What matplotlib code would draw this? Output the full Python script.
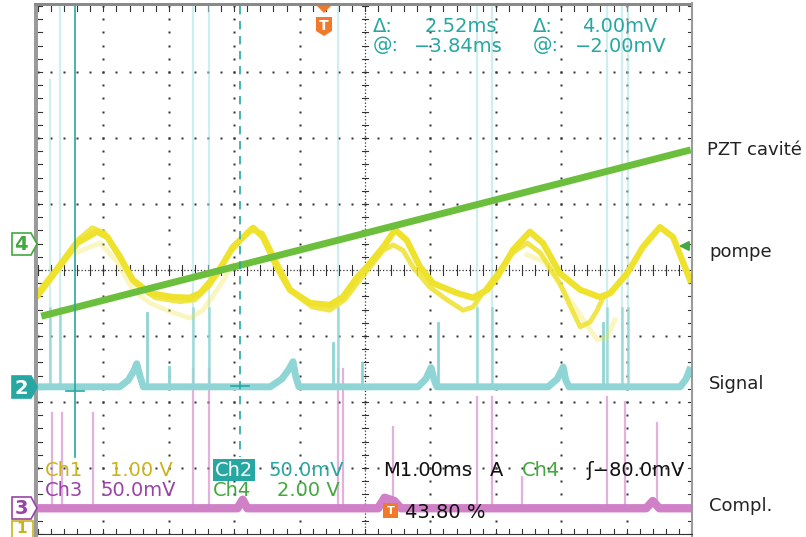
import numpy as np
import matplotlib.pyplot as plt
from matplotlib.patches import Polygon, Rectangle

# Écran de l'oscilloscope : 10 div horizontales (1 ms/div), 8 div verticales
# temps en ms depuis le bord gauche, amplitudes en divisions

# Ch4 : rampe de la cale piézo (PZT cavité)
t_pzt = [0.05, 9.98]
v_pzt = [-0.70, 1.82]

# Ch1 : pompe, trace principale
t_pompe = [0.00, 0.29, 0.60, 0.90, 1.06, 1.25, 1.45, 1.71, 2.06, 2.32, 2.48, 2.74,
           2.98, 3.29, 3.44, 3.65, 3.85, 4.16, 4.46, 4.66, 4.88, 5.03, 5.28, 5.46,
           5.64, 5.84, 6.04, 6.41, 6.65, 6.87, 7.02, 7.26, 7.52, 7.72, 7.98, 8.29,
           8.59, 8.75, 9.01, 9.25, 9.51, 9.71, 9.97]
v_pompe = [-0.38, 0.00, 0.41, 0.58, 0.50, 0.20, -0.15, -0.35, -0.41, -0.42, -0.35, -0.05,
           0.35, 0.64, 0.50, 0.05, -0.30, -0.50, -0.53, -0.41, -0.11, 0.05, 0.35, 0.61,
           0.45, 0.05, -0.20, -0.35, -0.42, -0.30, -0.11, 0.30, 0.58, 0.41, -0.05, -0.30,
           -0.41, -0.35, -0.05, 0.35, 0.65, 0.50, -0.15]

# Ch1 : second passage (persistance)
t_pompe2 = [0.00, 0.29, 0.60, 0.83, 1.02, 1.25, 1.48, 1.79, 2.17, 2.40, 2.63, 2.94,
            3.24, 3.43, 3.65, 3.88, 4.19, 4.46, 4.69, 4.92, 5.28, 5.43, 5.58, 5.73,
            5.99, 6.25, 6.50, 6.65, 6.91, 7.26, 7.48, 7.68, 7.98, 8.13, 8.29, 8.44,
            8.55, 8.64, 8.75]
v_pompe2 = [-0.33, 0.03, 0.45, 0.64, 0.56, 0.23, -0.20, -0.42, -0.48, -0.45, -0.23, 0.27,
            0.61, 0.56, 0.12, -0.33, -0.56, -0.61, -0.45, -0.15, 0.30, 0.38, 0.30, 0.05,
            -0.26, -0.45, -0.61, -0.56, -0.20, 0.26, 0.41, 0.26, -0.20, -0.53, -0.86, -0.79,
            -0.61, -0.42, -0.35]

# Ch1 : traces rémanentes pâles
t_pale1 = [0.60, 0.95, 1.21, 1.45, 1.71, 1.97, 2.32, 2.52, 2.74, 2.98]
v_pale1 = [0.27, 0.41, 0.12, -0.30, -0.50, -0.61, -0.73, -0.61, -0.30, 0.08]
t_pale2 = [7.48, 7.75, 8.03, 8.29, 8.55, 8.70, 8.82]
v_pale2 = [0.23, 0.12, -0.30, -0.68, -1.06, -1.02, -0.76]

# Ch2 : signal
t_sig = [0.00, 1.25, 1.38, 1.47, 1.51, 1.56, 1.61, 3.55, 3.73, 3.84, 3.90, 3.94, 3.99,
         5.81, 5.93, 6.01, 6.06, 6.10, 7.80, 7.94, 8.03, 8.07, 8.12, 9.82, 9.91, 9.98]
v_sig = [-1.77, -1.77, -1.67, -1.52, -1.42, -1.61, -1.77, -1.77, -1.65, -1.50, -1.39, -1.61, -1.77,
         -1.77, -1.65, -1.48, -1.67, -1.77, -1.77, -1.65, -1.47, -1.67, -1.77, -1.77, -1.65, -1.47]
base_sig = -1.77
# pics fins du signal
t_pics_sig = [1.67, 2.00, 4.51, 4.95, 6.12, 8.64]
h_pics_sig = [-0.65, -1.47, -1.11, -1.41, -0.80, -0.80]
# pics saturés (jusqu'en haut de l'écran)
t_sat = [0.18, 0.34, 2.37, 2.61, 4.59, 6.71, 6.94, 8.70, 8.93, 9.02]
h_sat = [2.88, 4.0, 4.0, 4.0, 4.0, 4.0, 4.0, 4.0, 4.0, 4.0]

# Ch3 : complémentaire
t_compl = [0.00, 3.05, 3.13, 3.20, 5.20, 5.30, 5.45, 5.55, 9.30, 9.40, 9.50, 10.0]
v_compl = [-3.61, -3.61, -3.48, -3.61, -3.61, -3.45, -3.50, -3.61, -3.61, -3.50, -3.61, -3.61]
base_compl = -3.61
t_pics_compl = [0.21, 0.37, 0.84, 2.37, 2.61, 4.59, 4.66, 5.43, 6.71, 6.94, 7.40, 8.70, 8.98, 9.46]
h_pics_compl = [-2.17, -2.17, -2.17, -1.50, -1.50, -1.50, -1.50, -2.38, -1.92, -1.92, -3.14, -1.92, -2.00, -2.32]

# curseurs temps (Ch2) et niveaux
t_curs = [0.57, 3.09]
v_curs = [-1.83, -1.76]

jaune = '#eee22c'
vert = '#6cbf3c'
cyan = '#8fd5d5'
magenta = '#cf80c6'
teal = '#27a7a2'
violet = '#9a42a8'
vert_txt = '#43a83e'
jaune_txt = '#c9b41c'
orange = '#f07a2a'

fig = plt.figure(figsize=(8.06, 5.37), dpi=100)
fig.patch.set_facecolor('white')

ax = fig.add_axes([38 / 806, 3 / 537, 654 / 806, 528 / 537])
ax.set_xlim(0, 10)
ax.set_ylim(-4, 4)
ax.axis('off')

# grille pointillée
pas = np.arange(0, 10.001, 0.2)
pas_v = np.arange(-4, 4.001, 0.2)
for i in range(1, 10):
    if i != 5:
        ax.plot([i] * len(pas_v), pas_v, 's', ms=1.5, color='#333333', mec='none', zorder=1)
for j in range(-3, 4):
    if j != 0:
        ax.plot(pas, [j] * len(pas), 's', ms=1.5, color='#333333', mec='none', zorder=1)
# axes centraux gradués
ax.plot([0, 10], [0, 0], ':', color='#333333', lw=0.9, zorder=1)
ax.plot([5, 5], [-4, 4], ':', color='#333333', lw=0.9, zorder=1)
for x in pas:
    ax.plot([x, x], [-0.07, 0.07], color='#333333', lw=0.8, zorder=1)
    ax.plot([x, x], [4, 3.93], color='#333333', lw=0.8, zorder=1)
    ax.plot([x, x], [-4, -3.93], color='#333333', lw=0.8, zorder=1)
for y in pas_v:
    ax.plot([4.95, 5.05], [y, y], color='#333333', lw=0.8, zorder=1)
    ax.plot([0, 0.06], [y, y], color='#333333', lw=0.8, zorder=1)
    ax.plot([10, 9.94], [y, y], color='#333333', lw=0.8, zorder=1)

# Ch3
for t, h in zip(t_pics_compl, h_pics_compl):
    ax.plot([t, t], [base_compl, h], color=magenta, lw=1.6, alpha=0.6, zorder=2)
ax.plot(t_compl, v_compl, color=magenta, lw=6, solid_capstyle='butt', zorder=2)

# Ch2
for t, h in zip(t_sat, h_sat):
    ax.plot([t, t], [base_sig, h], color='#a9e0e0', lw=1.6, alpha=0.55, zorder=2)
    ax.plot([t, t], [base_sig, base_sig + 1.2], color=cyan, lw=1.8, alpha=0.8, zorder=2)
for t, h in zip(t_pics_sig, h_pics_sig):
    ax.plot([t, t], [base_sig, h], color=cyan, lw=2.0, zorder=3)
ax.plot(t_sig, v_sig, color=cyan, lw=5, solid_capstyle='butt', zorder=3)

# Ch1
ax.plot(t_pale1, v_pale1, color=jaune, lw=3.5, alpha=0.3, zorder=4)
ax.plot(t_pale2, v_pale2, color=jaune, lw=3.5, alpha=0.3, zorder=4)
ax.plot(t_pompe2, v_pompe2, color=jaune, lw=3.5, alpha=0.85, zorder=4)
ax.plot(t_pompe, v_pompe, color=jaune, lw=4.5, zorder=5)

# Ch4
ax.plot(t_pzt, v_pzt, color=vert, lw=5, solid_capstyle='butt', zorder=6)

# curseurs
ax.plot([t_curs[0]] * 2, [4, -2.83], color=teal, lw=1.2, zorder=7)
ax.plot([t_curs[1]] * 2, [4, -2.83], color=teal, lw=1.2, ls=(0, (5, 4)), zorder=7)
ax.plot([t_curs[0] - 0.14, t_curs[0] + 0.14], [v_curs[0]] * 2, color=teal, lw=1.2, zorder=7)
ax.plot([t_curs[1] - 0.14, t_curs[1] + 0.14], [v_curs[1]] * 2, color=teal, lw=1.2, zorder=7)

# calque en pixels pour le cadre, les repères et les textes
ov = fig.add_axes([0, 0, 1, 1], zorder=5)
ov.set_xlim(0, 806)
ov.set_ylim(537, 0)
ov.axis('off')
ov.patch.set_alpha(0)

ov.add_patch(Rectangle((34, 3), 4, 534, color='#9a9a9a', lw=0))
ov.add_patch(Rectangle((34, 3), 658, 3, color='#8a8a8a', lw=0))
ov.plot([692, 692], [3, 537], color='#9a9a9a', lw=1.5)
ov.plot([38, 692], [534, 534], color='#333333', lw=0.8)


def repere(yc, num, couleur, plein=False):
    pts = [(12, yc - 11), (31, yc - 11), (37, yc), (31, yc + 11), (12, yc + 11)]
    ov.add_patch(Polygon(pts, closed=True, fc=couleur if plein else 'white',
                         ec=couleur, lw=1.2))
    ov.text(21, yc + 1, num, color='white' if plein else couleur, fontsize=14,
            fontweight='bold', ha='center', va='center')


repere(244, '4', vert_txt)
repere(387, '2', teal, plein=True)
repere(508, '3', violet)
ov.add_patch(Rectangle((12, 521), 21, 20, fc='white', ec=jaune_txt, lw=1.2))
ov.text(22, 528.5, '1', color=jaune_txt, fontsize=11, fontweight='bold', ha='center', va='center')

# repère de déclenchement
ov.add_patch(Polygon([(317, 6), (331, 6), (324, 13)], closed=True, fc=orange, ec='none'))
ov.add_patch(Polygon([(316, 17), (332, 17), (332, 31), (324, 36), (316, 31)],
                     closed=True, fc=orange, ec='none'))
ov.text(324, 26, 'T', color='white', fontsize=10, fontweight='bold', ha='center', va='center')
ov.annotate('', xy=(676, 246), xytext=(692, 246),
            arrowprops=dict(arrowstyle='-|>', color=vert_txt, lw=1.5, mutation_scale=14))

fs = 14
ov.text(373, 26, 'Δ:', color=teal, fontsize=fs, va='center')
ov.text(497, 26, '2.52ms', color=teal, fontsize=fs, va='center', ha='right')
ov.text(533, 26, 'Δ:', color=teal, fontsize=fs, va='center')
ov.text(657, 26, '4.00mV', color=teal, fontsize=fs, va='center', ha='right')
ov.text(373, 46, '@:', color=teal, fontsize=fs, va='center')
ov.text(503, 46, '−3.84ms', color=teal, fontsize=fs, va='center', ha='right')
ov.text(533, 46, '@:', color=teal, fontsize=fs, va='center')
ov.text(667, 46, '−2.00mV', color=teal, fontsize=fs, va='center', ha='right')

ov.text(45, 470, 'Ch1', color=jaune_txt, fontsize=fs, va='center')
ov.text(110, 470, '1.00 V', color=jaune_txt, fontsize=fs, va='center')
ov.text(215, 470, 'Ch2', color='white', fontsize=fs, va='center',
        bbox=dict(boxstyle='square,pad=0.08', fc=teal, ec='none'))
ov.text(268, 470, '50.0mV', color=teal, fontsize=fs, va='center')
ov.text(383, 470, 'M1.00ms', color='#111111', fontsize=fs, va='center')
ov.text(490, 470, 'A', color='#111111', fontsize=fs, va='center')
ov.text(522, 470, 'Ch4', color=vert_txt, fontsize=fs, va='center')
ov.text(685, 470, 'ʃ−80.0mV', color='#111111', fontsize=fs, va='center', ha='right')
ov.text(45, 491, 'Ch3', color=violet, fontsize=fs, va='center')
ov.text(100, 491, '50.0mV', color=violet, fontsize=fs, va='center')
ov.text(213, 491, 'Ch4', color=vert_txt, fontsize=fs, va='center')
ov.text(277, 491, '2.00 V', color=vert_txt, fontsize=fs, va='center')
ov.add_patch(Rectangle((383, 503), 15, 15, fc=orange, ec='none'))
ov.text(390.5, 511, 'T', color='white', fontsize=8, fontweight='bold', ha='center', va='center')
ov.text(405, 512, '43.80 %', color='#111111', fontsize=fs, va='center')

# légendes des voies
fl = 13
ov.text(707, 150, 'PZT cavité', color='#222222', fontsize=fl, va='center')
ov.text(709, 252, 'pompe', color='#222222', fontsize=fl, va='center')
ov.text(709, 384, 'Signal', color='#222222', fontsize=fl, va='center')
ov.text(709, 506, 'Compl.', color='#222222', fontsize=fl, va='center')

fig.savefig('out.png', dpi=100)
